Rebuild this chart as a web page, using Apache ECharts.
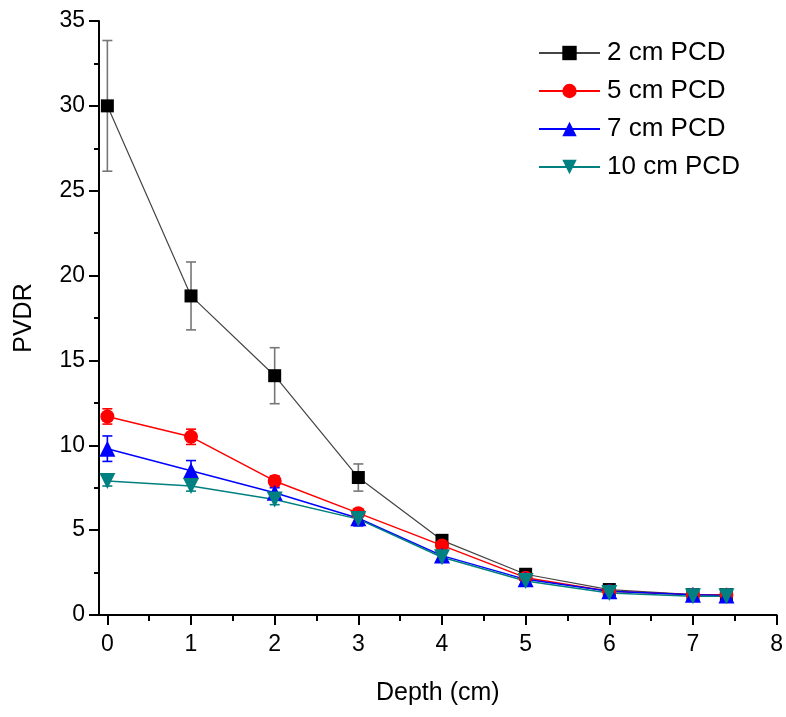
<!DOCTYPE html>
<html>
<head>
<meta charset="utf-8">
<script src="https://cdn.jsdelivr.net/npm/echarts@6/dist/echarts.min.js"></script>
<style>html,body{margin:0;padding:0;background:#fff;}#c{width:786px;height:717px;}</style>
</head>
<body>
<div id="c"></div>
<script>
var depths = [0, 1, 2, 3, 4, 5, 6, 7, 7.4];
var pvdr2 = [30.0, 18.8, 14.1, 8.1, 4.4, 2.4, 1.5, 1.2, 1.2];
var pvdr5 = [11.7, 10.5, 7.9, 6.0, 4.1, 2.2, 1.4, 1.2, 1.2];
var pvdr7 = [9.8, 8.5, 7.2, 5.7, 3.5, 2.1, 1.4, 1.2, 1.15];
var pvdr10 = [7.9, 7.6, 6.8, 5.65, 3.4, 2.0, 1.3, 1.1, 1.1];
var err2 = [3.85, 2.0, 1.65, 0.8, 0.2, 0.15, 0.1, 0.05, 0.05];
var err5 = [0.45, 0.45, 0.3, 0.25, 0.2, 0.1, 0.1, 0.05, 0.05];
var err7 = [0.75, 0.6, 0.3, 0.45, 0.25, 0.15, 0.1, 0.05, 0.05];
var err10 = [0.3, 0.3, 0.3, 0.3, 0.2, 0.1, 0.1, 0.05, 0.05];
var names = ['2 cm PCD', '5 cm PCD', '7 cm PCD', '10 cm PCD'];
var xTicks = [0, 1, 2, 3, 4, 5, 6, 7, 8];
var xMinorTicks = [0.5, 1.5, 2.5, 3.5, 4.5, 5.5, 6.5, 7.5];

var font = 'Liberation Sans, Arial, sans-serif';

function pairs(ys) { return depths.map(function (x, i) { return [x, ys[i]]; }); }
function errData(ys, es) { return depths.map(function (x, i) { return [x, ys[i] - es[i], ys[i] + es[i]]; }); }
function errSeries(ys, es, color) {
  return {
    type: 'custom',
    silent: true,
    z: 1,
    data: errData(ys, es),
    encode: { x: 0, y: [1, 2] },
    renderItem: function (params, api) {
      var lo = api.coord([api.value(0), api.value(1)]);
      var hi = api.coord([api.value(0), api.value(2)]);
      var w = 5;
      var st = { stroke: color, lineWidth: 1.6 };
      return {
        type: 'group',
        children: [
          { type: 'line', shape: { x1: lo[0], y1: lo[1], x2: hi[0], y2: hi[1] }, style: st },
          { type: 'line', shape: { x1: lo[0] - w, y1: lo[1], x2: lo[0] + w, y2: lo[1] }, style: st },
          { type: 'line', shape: { x1: hi[0] - w, y1: hi[1], x2: hi[0] + w, y2: hi[1] }, style: st }
        ]
      };
    }
  };
}
function lineSeries(name, ys, lineColor, markColor, symbol, size, rotate, width) {
  return {
    name: name, type: 'line', data: pairs(ys), z: 3,
    symbol: symbol, symbolSize: size, symbolRotate: rotate || 0, showAllSymbol: true,
    lineStyle: { color: lineColor, width: width },
    itemStyle: { color: markColor, borderWidth: 0 }
  };
}

var chart = echarts.init(document.getElementById('c'), null, { renderer: 'canvas' });
chart.setOption({
  animation: false,
  backgroundColor: '#fff',
  textStyle: { fontFamily: font },
  grid: { left: 99, right: 7, top: 21, bottom: 102 },
  legend: {
    data: names,
    orient: 'vertical',
    left: 533, top: 35,
    itemWidth: 61, itemHeight: 18, itemGap: 12,
    lineStyle: { width: 2 },
    textStyle: { fontSize: 26, color: '#000', fontFamily: font, padding: [0, 0, 0, 2] }
  },
  xAxis: [{
    type: 'value', min: -0.1, max: 8,
    name: 'Depth (cm)', nameLocation: 'middle', nameGap: 66,
    nameTextStyle: { fontSize: 25, color: '#000', fontFamily: font },
    axisLine: { onZero: false, lineStyle: { color: '#000', width: 2 } },
    axisTick: { length: 10, lineStyle: { color: '#000', width: 2 }, customValues: xTicks },
    axisLabel: { fontSize: 23, color: '#000', margin: 18, customValues: xTicks, fontFamily: font },
    splitLine: { show: false }
  }, {
    type: 'value', min: -0.1, max: 8, position: 'bottom',
    axisLine: { show: false, onZero: false },
    axisTick: { length: 6, lineStyle: { color: '#000', width: 2 }, customValues: xMinorTicks },
    axisLabel: { show: false },
    splitLine: { show: false }
  }],
  yAxis: {
    type: 'value', min: 0, max: 35, interval: 5,
    name: 'PVDR', nameLocation: 'middle', nameGap: 62,
    nameTextStyle: { fontSize: 25, color: '#000', fontFamily: font },
    axisLine: { show: true, onZero: false, lineStyle: { color: '#000', width: 2 } },
    axisTick: { length: 10, lineStyle: { color: '#000', width: 2 } },
    minorTick: { show: true, splitNumber: 2, length: 5, lineStyle: { color: '#000', width: 2 } },
    axisLabel: { fontSize: 23, color: '#000', margin: 14, fontFamily: font },
    splitLine: { show: false }
  },
  series: [
    errSeries(pvdr2, err2, '#777'),
    errSeries(pvdr5, err5, '#ff0000'),
    errSeries(pvdr7, err7, '#0000ff'),
    errSeries(pvdr10, err10, '#008080'),
    lineSeries(names[0], pvdr2, '#444', '#000', 'rect', 13, 0, 1.2),
    lineSeries(names[1], pvdr5, '#ff0000', '#ff0000', 'circle', 14, 0, 1.5),
    lineSeries(names[2], pvdr7, '#0000ff', '#0000ff', 'triangle', 16, 0, 1.5),
    lineSeries(names[3], pvdr10, '#008080', '#008080', 'triangle', 16, 180, 1.5)
  ]
});
</script>
</body>
</html>
